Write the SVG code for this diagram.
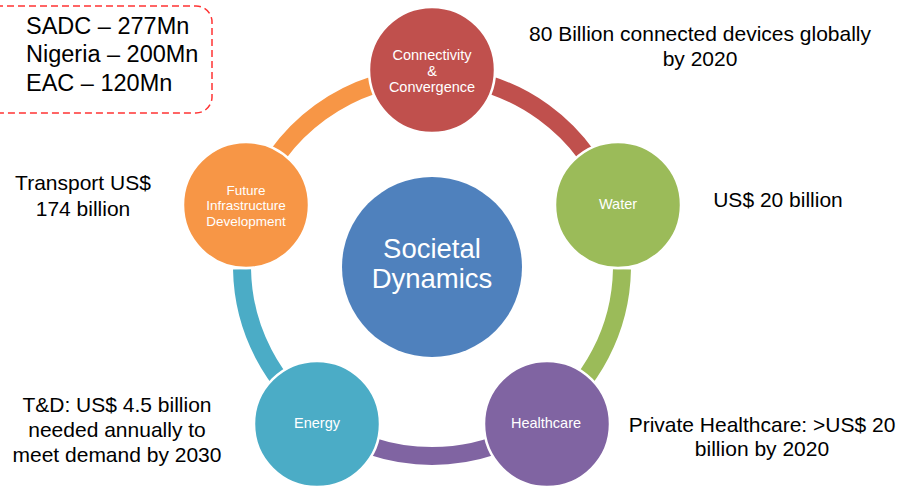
<svg xmlns="http://www.w3.org/2000/svg" width="908" height="487" viewBox="0 0 908 487">
<style>
  .arc { fill: none; stroke-width: 18; stroke-linecap: butt; }
  .node { stroke: #FFFFFF; stroke-width: 2.5; }
  .lbl { font-family: "Liberation Sans", Arial, sans-serif; fill: #FFFFFF; font-size: 14.5px; text-anchor: middle; }
  .lbl2 { font-family: "Liberation Sans", Arial, sans-serif; fill: #FFFFFF; font-size: 13.5px; text-anchor: middle; }
  .big { font-family: "Liberation Sans", Arial, sans-serif; fill: #FFFFFF; font-size: 27.5px; text-anchor: middle; }
  .note { font-family: "Liberation Sans", Arial, sans-serif; fill: #000000; font-size: 21px; text-anchor: middle; }
  .box { font-family: "Liberation Sans", Arial, sans-serif; fill: #000000; font-size: 23.5px; }
</style>
<rect width="908" height="487" fill="#FFFFFF"/>
<g id="connectors">
  <path class="arc" stroke="#C0504D" d="M432,76 A190,190 0 0 1 612.70,207.29"/>
  <path class="arc" stroke="#9BBB59" d="M621.97,269.32 A190,190 0 0 1 543.68,419.71"/>
  <path class="arc" stroke="#8064A2" d="M543.68,419.71 A190,190 0 0 1 320.32,419.71"/>
  <path class="arc" stroke="#4BACC6" d="M320.32,419.71 A190,190 0 0 1 242.03,269.32"/>
  <path class="arc" stroke="#F79646" d="M251.30,207.29 A190,190 0 0 1 432,76"/>
</g>
<g id="center">
  <circle cx="432" cy="267" r="90" fill="#4F81BD"/>
  <text class="big" x="432" y="258">Societal</text>
  <text class="big" x="432" y="288">Dynamics</text>
</g>
<g id="connectivity">
  <circle class="node" cx="432" cy="70" r="63" fill="#C0504D"/>
  <text class="lbl" x="432" y="60">Connectivity</text>
  <text class="lbl" x="432" y="76">&amp;</text>
  <text class="lbl" x="432" y="92">Convergence</text>
</g>
<g id="water">
  <circle class="node" cx="618" cy="205" r="63" fill="#9BBB59"/>
  <text class="lbl" x="618" y="209">Water</text>
</g>
<g id="healthcare">
  <circle class="node" cx="547" cy="424" r="63" fill="#8064A2"/>
  <text class="lbl" x="546" y="428">Healthcare</text>
</g>
<g id="energy">
  <circle class="node" cx="317" cy="424" r="63" fill="#4BACC6"/>
  <text class="lbl" x="317" y="428">Energy</text>
</g>
<g id="future">
  <circle class="node" cx="246" cy="205" r="63" fill="#F79646"/>
  <text class="lbl2" x="246" y="194.5">Future</text>
  <text class="lbl2" x="246" y="210">Infrastructure</text>
  <text class="lbl2" x="246" y="225.5">Development</text>
</g>
<g id="notes">
  <rect x="-20" y="6" width="232" height="107" rx="16" ry="16" fill="none" stroke="#FF3333" stroke-width="1.5" stroke-dasharray="7,4"/>
  <text class="box" x="26" y="34">SADC – 277Mn</text>
  <text class="box" x="26" y="62">Nigeria – 200Mn</text>
  <text class="box" x="26" y="91">EAC – 120Mn</text>
  <text class="note" x="700" y="41">80 Billion connected devices globally</text>
  <text class="note" x="700" y="66">by 2020</text>
  <text class="note" x="778" y="207">US$ 20 billion</text>
  <text class="note" x="83" y="190">Transport US$</text>
  <text class="note" x="83" y="216">174 billion</text>
  <text class="note" x="117" y="412">T&amp;D: US$ 4.5 billion</text>
  <text class="note" x="117" y="437">needed annually to</text>
  <text class="note" x="117" y="462">meet demand by 2030</text>
  <text class="note" x="762" y="432">Private Healthcare: &gt;US$ 20</text>
  <text class="note" x="762" y="456">billion by 2020</text>
</g>
</svg>
